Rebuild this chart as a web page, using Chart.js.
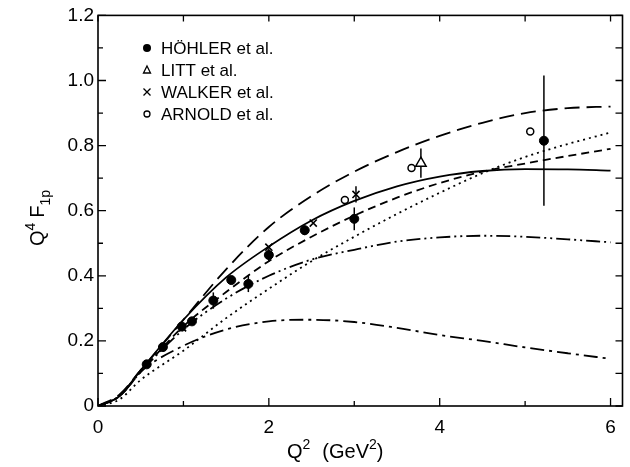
<!DOCTYPE html>
<html>
<head>
<meta charset="utf-8">
<script src="https://cdn.jsdelivr.net/npm/chart.js@4.4.1/dist/chart.umd.min.js"></script>
<style>
  html, body { margin: 0; padding: 0; background: #fff; }
  #wrap { width: 630px; height: 467px; }
</style>
</head>
<body>
<div id="wrap"><canvas id="chart"></canvas></div>
<script>
// model curves, sampled at curveX
const curveX = [0, 0.25, 0.5, 1, 1.5, 2, 2.5, 3, 3.5, 4, 4.5, 5, 5.5, 6];
const longDashY = [0, 0.035, 0.11, 0.265, 0.42, 0.55, 0.645, 0.72, 0.78, 0.83, 0.87, 0.9, 0.915, 0.92];
const solidY = [0, 0.03, 0.11, 0.265, 0.395, 0.49, 0.57, 0.63, 0.675, 0.705, 0.722, 0.728, 0.727, 0.723];
const shortDashY = [0, 0.03, 0.105, 0.245, 0.35, 0.445, 0.52, 0.585, 0.64, 0.685, 0.72, 0.745, 0.768, 0.79];
const dottedY = [0, 0.02, 0.08, 0.17, 0.27, 0.36, 0.445, 0.52, 0.59, 0.655, 0.715, 0.765, 0.805, 0.84];
const dashDotDotY = [0, 0.03, 0.105, 0.235, 0.33, 0.4, 0.45, 0.48, 0.505, 0.518, 0.523, 0.52, 0.512, 0.503];
const dashDotY = [0, 0.03, 0.105, 0.185, 0.235, 0.26, 0.265, 0.258, 0.24, 0.218, 0.2, 0.18, 0.162, 0.145];

// measurements
const hohlerX = [0.57, 0.76, 0.98, 1.1, 1.35, 1.56, 1.76, 2.0, 2.42, 3.0, 5.22];
const hohlerY = [0.128, 0.181, 0.244, 0.26, 0.324, 0.387, 0.375, 0.464, 0.54, 0.575, 0.815];
const hohlerErr = [0, 0, 0, 0, 0.025, 0, 0.025, 0.02, 0.015, 0.035, 0.2];
const littX = [3.78];
const littY = [0.746];
const littErr = [0.045];
const walkerX = [0.99, 2.0, 2.52, 3.02];
const walkerY = [0.24, 0.488, 0.562, 0.65];
const walkerErr = [0, 0, 0, 0.025];
const arnoldX = [2.89, 3.67, 5.06];
const arnoldY = [0.633, 0.731, 0.843];

const xTicks = [0, 1, 2, 3, 4, 5, 6];
const xLabels = ['0', '', '2', '', '4', '', '6'];
const yTicks = [0, 0.1, 0.2, 0.3, 0.4, 0.5, 0.6, 0.7, 0.8, 0.9, 1.0, 1.1, 1.2];
const yLabels = ['0', '', '0.2', '', '0.4', '', '0.6', '', '0.8', '', '1.0', '', '1.2'];

const FONT = '"Liberation Sans", Arial, sans-serif';

function pts(xs, ys) {
    return xs.map((x, i) => ({ x: x, y: ys[i] }));
}

function curve(ys, dash) {
    return {
        data: pts(curveX, ys),
        showLine: true,
        borderColor: '#000',
        borderWidth: 1.8,
        borderDash: dash,
        pointRadius: 0,
        cubicInterpolationMode: 'monotone',
        fill: false
    };
}

const datasets = [
    curve(longDashY, [15, 7]),
    curve(solidY, []),
    curve(shortDashY, [8, 5]),
    curve(dottedY, [2, 4]),
    curve(dashDotDotY, [14, 4, 2, 4, 2, 4]),
    curve(dashDotY, [14, 5, 3, 5]),
    {
        label: 'HÖHLER et al.',
        data: pts(hohlerX, hohlerY),
        errors: hohlerErr,
        pointStyle: 'circle',
        pointRadius: 4.5,
        backgroundColor: '#000',
        borderColor: '#000',
        borderWidth: 1
    },
    {
        label: 'LITT et al.',
        data: pts(littX, littY),
        errors: littErr,
        pointStyle: 'triangle',
        pointRadius: 6,
        backgroundColor: '#fff',
        borderColor: '#000',
        borderWidth: 1.5
    },
    {
        label: 'WALKER et al.',
        data: pts(walkerX, walkerY),
        errors: walkerErr,
        pointStyle: 'crossRot',
        pointRadius: 5,
        backgroundColor: '#000',
        borderColor: '#000',
        borderWidth: 1.6
    },
    {
        label: 'ARNOLD et al.',
        data: pts(arnoldX, arnoldY),
        pointStyle: 'circle',
        pointRadius: 3.5,
        backgroundColor: '#fff',
        borderColor: '#000',
        borderWidth: 1.5
    }
];

// frame with inward ticks, error bars, legend and axis titles
const decor = {
    id: 'decor',
    beforeDatasetsDraw(chart) {
        const ctx = chart.ctx;
        const ys = chart.scales.y;
        ctx.save();
        ctx.strokeStyle = '#000';
        ctx.lineWidth = 1.5;
        chart.data.datasets.forEach((ds, di) => {
            if (!ds.errors) return;
            const meta = chart.getDatasetMeta(di);
            ds.data.forEach((p, i) => {
                const e = ds.errors[i];
                if (!e) return;
                const px = meta.data[i].x;
                ctx.beginPath();
                ctx.moveTo(px, ys.getPixelForValue(p.y - e));
                ctx.lineTo(px, ys.getPixelForValue(p.y + e));
                ctx.stroke();
            });
        });
        ctx.restore();
    },
    afterDraw(chart) {
        const ctx = chart.ctx;
        const a = chart.chartArea;
        const xs = chart.scales.x;
        const ys = chart.scales.y;
        ctx.save();
        ctx.strokeStyle = '#000';
        ctx.lineWidth = 1.6;
        ctx.strokeRect(a.left, a.top, a.right - a.left, a.bottom - a.top);

        ctx.lineWidth = 1.3;
        xTicks.forEach((v, i) => {
            const px = xs.getPixelForValue(v);
            const len = xLabels[i] ? 8 : 5;
            ctx.beginPath();
            ctx.moveTo(px, a.bottom); ctx.lineTo(px, a.bottom - len);
            ctx.moveTo(px, a.top); ctx.lineTo(px, a.top + 6);
            ctx.stroke();
        });
        yTicks.forEach((v, i) => {
            const py = ys.getPixelForValue(v);
            const len = yLabels[i] ? 8 : 5;
            ctx.beginPath();
            ctx.moveTo(a.left, py); ctx.lineTo(a.left + len, py);
            ctx.moveTo(a.right, py); ctx.lineTo(a.right - 7, py);
            ctx.stroke();
        });

        // legend
        ctx.fillStyle = '#000';
        ctx.textBaseline = 'middle';
        ctx.font = '17px ' + FONT;
        const marks = chart.data.datasets.filter(d => d.label);
        marks.forEach((ds, i) => {
            const y = 48 + i * 22;
            const x = 147;
            ctx.lineWidth = 1.3;
            ctx.beginPath();
            if (ds.pointStyle === 'triangle') {
                ctx.moveTo(x, y - 4); ctx.lineTo(x + 3.5, y + 3); ctx.lineTo(x - 3.5, y + 3); ctx.closePath();
                ctx.stroke();
            } else if (ds.pointStyle === 'crossRot') {
                ctx.moveTo(x - 3.5, y - 3.5); ctx.lineTo(x + 3.5, y + 3.5);
                ctx.moveTo(x + 3.5, y - 3.5); ctx.lineTo(x - 3.5, y + 3.5);
                ctx.stroke();
            } else if (ds.backgroundColor === '#000') {
                ctx.arc(x, y, 4, 0, Math.PI * 2); ctx.fill();
            } else {
                ctx.arc(x, y, 3, 0, Math.PI * 2); ctx.stroke();
            }
            ctx.fillText(ds.label, 161, y + 1);
        });

        // x title: Q^2 (GeV^2)
        ctx.textBaseline = 'alphabetic';
        let tx = 287;
        const ty = 458;
        const big = '20px ' + FONT, small = '14px ' + FONT;
        function put(t, f, dy) {
            ctx.font = f;
            ctx.fillText(t, tx, ty + dy);
            tx += ctx.measureText(t).width;
        }
        put('Q', big, 0); put('2', small, -9); tx += 12;
        put('(GeV', big, 0); put('2', small, -9); put(')', big, 0);

        // y title: Q^4 F_1p rotated
        ctx.translate(44, 246);
        ctx.rotate(-Math.PI / 2);
        tx = 0;
        function put2(t, f, dy) {
            ctx.font = f;
            ctx.fillText(t, tx, dy);
            tx += ctx.measureText(t).width;
        }
        put2('Q', big, 0); put2('4', small, -9); tx += 5;
        put2('F', big, 0); put2('1p', small, 6);
        ctx.restore();
    }
};

new Chart(document.getElementById('chart'), {
    type: 'scatter',
    data: { datasets: datasets },
    options: {
        responsive: true,
        maintainAspectRatio: false,
        animation: false,
        layout: { padding: { left: 0, right: 3, top: 13, bottom: 0 } },
        plugins: {
            legend: { display: false },
            tooltip: { enabled: false }
        },
        scales: {
            x: {
                type: 'linear',
                min: 0,
                max: 6.14,
                border: { display: false },
                grid: { display: false, drawTicks: false },
                afterBuildTicks: s => { s.ticks = xTicks.map(v => ({ value: v })); },
                afterFit: s => { s.height = 61; },
                ticks: {
                    autoSkip: false,
                    maxRotation: 0,
                    padding: 10,
                    color: '#000',
                    font: { family: FONT, size: 19 },
                    callback: (v, i) => xLabels[i]
                }
            },
            y: {
                type: 'linear',
                min: 0,
                max: 1.2,
                border: { display: false },
                grid: { display: false, drawTicks: false },
                afterBuildTicks: s => { s.ticks = yTicks.map(v => ({ value: v })); },
                afterFit: s => { s.width = 98; },
                ticks: {
                    autoSkip: false,
                    padding: 4,
                    color: '#000',
                    font: { family: FONT, size: 19 },
                    callback: (v, i) => yLabels[i]
                }
            }
        }
    },
    plugins: [decor]
});
</script>
</body>
</html>
